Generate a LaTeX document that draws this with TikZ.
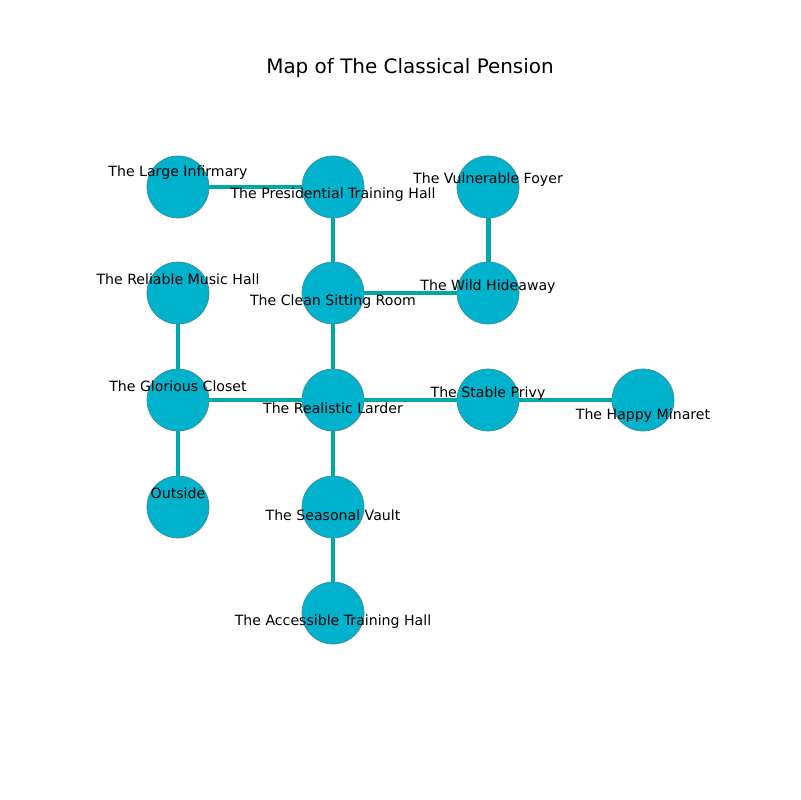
\documentclass[tikz,border=0pt]{standalone}
\usepackage{fontspec}
\setmainfont{DejaVu Sans}
\definecolor{roomfill}{HTML}{00B2CC}
\definecolor{roomline}{HTML}{3C8C9C}
\definecolor{passage}{HTML}{00A8A8}
\usetikzlibrary{calc, backgrounds}

\tikzset{
  room/.style={circle, draw=roomline, line width=0.5pt, fill=roomfill,
               minimum size=0.62in, inner sep=0pt},
  roomname/.style={font=\fontsize{10.2}{12}\selectfont, inner sep=0pt, text=black},
  passage/.style={draw=passage, line width=3.6pt}
}

\begin{document}
\begin{tikzpicture}[x=0.01in, y=-0.01in]
\useasboundingbox (0,0) rectangle (800,800);
\node[font=\fontsize{14.4}{17}\selectfont] (title) at (410,68) {Map of The Classical Pension};

% rooms on the grid
\node[room] (infirmary) at (178,187) {};
\node[room] (training)  at (333,187) {};
\node[room] (foyer)     at (488,187) {};
\node[room] (music)     at (178,293) {};
\node[room] (sitting)   at (333,293) {};
\node[room] (hideaway)  at (488,293) {};
\node[room] (closet)    at (178,400) {};
\node[room] (larder)    at (333,400) {};
\node[room] (privy)     at (488,400) {};
\node[room] (minaret)   at (643,400) {};
\node[room] (outside)   at (178,507) {};
\node[room] (vault)     at (333,507) {};
\node[room] (hall)      at (333,613) {};

% passages
\begin{scope}[on background layer]
\draw[passage] (infirmary) -- (training);
\draw[passage] (training) -- (sitting);
\draw[passage] (foyer) -- (hideaway);
\draw[passage] (sitting) -- (hideaway);
\draw[passage] (music) -- (closet);
\draw[passage] (closet) -- (larder);
\draw[passage] (sitting) -- (larder);
\draw[passage] (larder) -- (privy);
\draw[passage] (privy) -- (minaret);
\draw[passage] (closet) -- (outside);
\draw[passage] (larder) -- (vault);
\draw[passage] (vault) -- (hall);
\end{scope}

% names
\node[roomname] at ($(infirmary)+(0,-14)$) {The Large Infirmary};
\node[roomname] at ($(training)+(0,8)$)    {The Presidential Training Hall};
\node[roomname] at ($(foyer)+(0,-7)$)      {The Vulnerable Foyer};
\node[roomname] at ($(music)+(0,-14)$)     {The Reliable Music Hall};
\node[roomname] at ($(sitting)+(0,9)$)     {The Clean Sitting Room};
\node[roomname] at ($(hideaway)+(0,-6)$)   {The Wild Hideaway};
\node[roomname] at ($(closet)+(0,-14)$)    {The Glorious Closet};
\node[roomname] at ($(larder)+(0,8)$)      {The Realistic Larder};
\node[roomname] at ($(privy)+(0,-6)$)      {The Stable Privy};
\node[roomname] at ($(minaret)+(0,16)$)    {The Happy Minaret};
\node[roomname] at ($(outside)+(0,-14)$)   {Outside};
\node[roomname] at ($(vault)+(0,8)$)       {The Seasonal Vault};
\node[roomname] at ($(hall)+(0,9)$)        {The Accessible Training Hall};
\end{tikzpicture}
\end{document}
